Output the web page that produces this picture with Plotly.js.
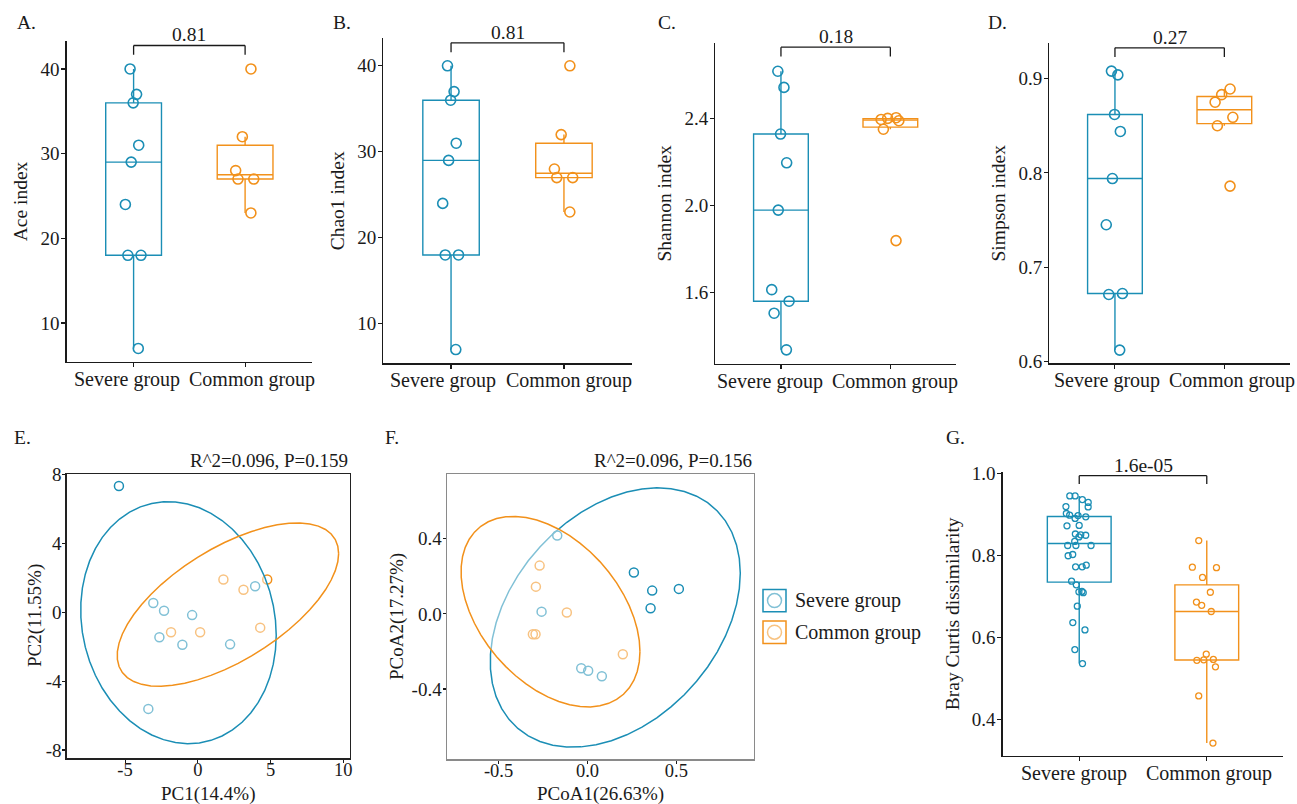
<!DOCTYPE html>
<html>
<head>
<meta charset="utf-8">
<script src="https://cdn.plot.ly/plotly-3.0.1.min.js"></script>
<style>html,body{margin:0;padding:0;background:#fff;} #chart{width:1297px;height:804px;}</style>
</head>
<body>
<div id="chart"></div>
<script>
// ---------------- data ----------------
const groups = ['Severe group', 'Common group'];

const aceSevere = [40, 37, 36, 31, 29, 24, 18, 18, 7];
const aceCommon = [40, 32, 28, 27, 27, 23];
const chao1Severe = [40, 37, 36, 31, 29, 24, 18, 18, 7];
const chao1Common = [40, 32, 28, 27, 27, 23];
const shannonSevere = [2.616, 2.542, 2.328, 2.196, 1.979, 1.614, 1.561, 1.506, 1.338];
const shannonCommon = [2.403, 2.400, 2.395, 2.389, 2.350, 1.839];
const simpsonSevere = [0.908, 0.904, 0.862, 0.844, 0.794, 0.745, 0.672, 0.671, 0.612];
const simpsonCommon = [0.889, 0.883, 0.875, 0.859, 0.850, 0.786];

const pcaSevereX = [-5.42, -3.06, -2.32, -0.39, 3.94, -2.64, -1.06, 2.22, -3.40];
const pcaSevereY = [7.34, 0.54, 0.09, -0.16, 1.52, -1.45, -1.88, -1.86, -5.61];
const pcaCommonX = [1.76, 3.14, 4.77, -1.84, 0.16, 4.29];
const pcaCommonY = [1.91, 1.31, 1.91, -1.16, -1.16, -0.89];

const pcoaSevereX = [-0.170, 0.261, 0.364, 0.514, 0.355, -0.258, -0.035, 0.004, 0.081];
const pcoaSevereY = [0.417, 0.220, 0.124, 0.133, 0.030, 0.012, -0.289, -0.303, -0.332];
const pcoaCommonX = [-0.269, -0.290, -0.116, -0.307, -0.292, 0.199];
const pcoaCommonY = [0.257, 0.145, 0.007, -0.108, -0.108, -0.215];

const braySevere = [0.945, 0.945, 0.936, 0.918, 0.929, 0.919, 0.894, 0.890, 0.902, 0.898,
                    0.897, 0.872, 0.873, 0.849, 0.845, 0.850, 0.852, 0.824, 0.824, 0.834,
                    0.824, 0.802, 0.799, 0.772, 0.772, 0.776, 0.737, 0.728, 0.709, 0.711,
                    0.712, 0.676, 0.636, 0.618, 0.570, 0.536];
const brayCommon = [0.836, 0.770, 0.771, 0.746, 0.710, 0.686, 0.678, 0.663, 0.545, 0.546,
                    0.544, 0.559, 0.528, 0.457, 0.342];

const pLabels = ['0.81', '0.81', '0.18', '0.27', '1.6e-05'];
const permLabels = ['R^2=0.096, P=0.159', 'R^2=0.096, P=0.156'];
const panelLetters = ['A.', 'B.', 'C.', 'D.', 'E.', 'F.', 'G.'];
const boxYTitles = ['Ace index', 'Chao1 index', 'Shannon index', 'Simpson index', 'Bray Curtis dissimilarity'];
const pcaTitles = ['PC1(14.4%)', 'PC2(11.55%)'];
const pcoaTitles = ['PCoA1(26.63%)', 'PCoA2(17.27%)'];
const pcaXTicks = [-5, 0, 5, 10];
const pcaXTickText = ['-5', '0', '5', '10'];
const pcaYTicks = [-8, -4, 0, 4, 8];
const pcaYTickText = ['-8', '-4', '0', '4', '8'];
const pcoaXTicks = [-0.5, 0, 0.5];
const pcoaXTickText = ['-0.5', '0.0', '0.5'];
const pcoaYTicks = [-0.4, 0, 0.4];
const pcoaYTickText = ['-0.4', '0.0', '0.4'];

// ---------------- style ----------------
const FONT = 'Liberation Serif, Times New Roman, serif';
const BLUE = '#1b8eb5';
const ORANGE = '#f2911b';
const BLUE_L = 'rgb(130,193,214)';
const ORANGE_L = 'rgb(248,195,130)';
const INK = '#1a1a1a';
const W = 1297, H = 804;
const px = v => v / W;
const py = v => 1 - v / H;

// ---------------- helpers ----------------
function q7(s, p) {
  const h = (s.length - 1) * p, lo = Math.floor(h), hi = Math.ceil(h);
  return s[lo] + (h - lo) * (s[hi] - s[lo]);
}
function boxStats(vals) {
  const s = vals.slice().sort((a, b) => a - b);
  const q1 = q7(s, 0.25), med = q7(s, 0.5), q3 = q7(s, 0.75), iqr = q3 - q1;
  const lf = Math.min.apply(null, s.filter(v => v >= q1 - 1.5 * iqr));
  const uf = Math.max.apply(null, s.filter(v => v <= q3 + 1.5 * iqr));
  return {q1, med, q3, lf, uf};
}
function boxTrace(vals, group, color, n, o) {
  const st = boxStats(vals);
  return {
    type: 'box', x: [group], y: [vals],
    q1: [st.q1], median: [st.med], q3: [st.q3], lowerfence: [st.lf], upperfence: [st.uf],
    boxpoints: 'all', jitter: o.jitter, pointpos: 0, width: 0.5, whiskerwidth: 0,
    fillcolor: 'rgba(255,255,255,0)', line: {color: color, width: 1.4},
    marker: {symbol: 'circle-open', size: o.size, color: color, line: {width: o.lw, color: color}},
    xaxis: 'x' + n, yaxis: 'y' + n, showlegend: false, hoverinfo: 'skip'
  };
}
// MASS::cov.trob + ggplot2 stat_ellipse (type "t", level 0.95)
function ellipse(xs, ys) {
  const n = xs.length, nu = 5, p = 2;
  let loc = [xs.reduce((a, b) => a + b, 0) / n, ys.reduce((a, b) => a + b, 0) / n];
  let w = new Array(n).fill(1);
  let X = [];
  for (let it = 0; it < 25; it++) {
    const w0 = w.slice();
    X = xs.map((x, i) => [x - loc[0], ys[i] - loc[1]]);
    const sw = w.reduce((a, b) => a + b, 0);
    let a = 0, b = 0, c = 0;
    X.forEach((d, i) => { a += w[i] / sw * d[0] * d[0]; b += w[i] / sw * d[0] * d[1]; c += w[i] / sw * d[1] * d[1]; });
    const det = a * c - b * b;
    const Q = X.map(d => (c * d[0] * d[0] - 2 * b * d[0] * d[1] + a * d[1] * d[1]) / det);
    w = Q.map(q => (nu + p) / (nu + q));
    const sw2 = w.reduce((s, v) => s + v, 0);
    loc = [xs.reduce((s, x, i) => s + w[i] * x, 0) / sw2, ys.reduce((s, y, i) => s + w[i] * y, 0) / sw2];
    if (w.every((v, i) => Math.abs(v - w0[i]) < 0.01)) break;
  }
  let a = 0, b = 0, c = 0;
  X.forEach((d, i) => { a += w[i] * d[0] * d[0]; b += w[i] * d[0] * d[1]; c += w[i] * d[1] * d[1]; });
  a /= n; b /= n; c /= n;
  const r11 = Math.sqrt(a), r12 = b / r11, r22 = Math.sqrt(c - r12 * r12);
  const dfd = n - 1;
  const qf = dfd / 2 * (Math.pow(0.05, -2 / dfd) - 1);
  const radius = Math.sqrt(2 * qf);
  const ex = [], ey = [];
  for (let k = 0; k <= 51; k++) {
    const t = k * 2 * Math.PI / 51, co = Math.cos(t), si = Math.sin(t);
    ex.push(loc[0] + radius * co * r11);
    ey.push(loc[1] + radius * (co * r12 + si * r22));
  }
  return {x: ex, y: ey};
}
function ellTrace(xs, ys, color, n, filled) {
  const e = ellipse(xs, ys);
  return {type: 'scatter', mode: 'lines', x: e.x, y: e.y, xaxis: 'x' + n, yaxis: 'y' + n,
    line: {color: color, width: 1.5}, fill: filled ? 'toself' : 'none',
    fillcolor: 'rgba(255,255,255,0.45)', showlegend: false, hoverinfo: 'skip'};
}
function ptsTrace(xs, ys, color, n) {
  return {type: 'scatter', mode: 'markers', x: xs, y: ys, xaxis: 'x' + n, yaxis: 'y' + n,
    marker: {symbol: 'circle-open', size: 9, color: color, line: {width: 1.5, color: color}},
    showlegend: false, hoverinfo: 'skip'};
}

// ---------------- traces ----------------
const big = {jitter: 0.4, size: 10, lw: 1.6};
const small = {jitter: 0.5, size: 6, lw: 1.3};
const boxSets = [[aceSevere, aceCommon], [chao1Severe, chao1Common], [shannonSevere, shannonCommon], [simpsonSevere, simpsonCommon]];
const traces = [];
boxSets.forEach((set, i) => {
  traces.push(boxTrace(set[0], groups[0], BLUE, i + 1, big));
  traces.push(boxTrace(set[1], groups[1], ORANGE, i + 1, big));
});
traces.push(boxTrace(braySevere, groups[0], BLUE, 7, small));
traces.push(boxTrace(brayCommon, groups[1], ORANGE, 7, small));

// panel E: severe ellipse (translucent white fill) over the points, common ellipse last
traces.push(ptsTrace(pcaSevereX, pcaSevereY, BLUE, 5));
traces.push(ptsTrace(pcaCommonX, pcaCommonY, ORANGE, 5));
traces.push(ellTrace(pcaSevereX, pcaSevereY, BLUE, 5, true));
traces.push(ellTrace(pcaCommonX, pcaCommonY, ORANGE, 5, false));

// panel F: common ellipse (translucent white fill) drawn last
traces.push(ptsTrace(pcoaSevereX, pcoaSevereY, BLUE, 6));
traces.push(ptsTrace(pcoaCommonX, pcoaCommonY, ORANGE, 6));
traces.push(ellTrace(pcoaSevereX, pcoaSevereY, BLUE, 6, false));
traces.push(ellTrace(pcoaCommonX, pcoaCommonY, ORANGE, 6, true));

// ---------------- axes ----------------
const tickFont = {family: FONT, size: 19, color: INK};
const catFont = {family: FONT, size: 20, color: INK};
const titleFont = {family: FONT, size: 19.5, color: INK};
function catAxis(d, anchor) {
  return {domain: d, anchor: anchor, type: 'category', categoryorder: 'array', categoryarray: groups,
    range: [-0.6, 1.6], showline: true, linecolor: INK, linewidth: 1.3, ticks: 'outside', ticklen: 4,
    tickwidth: 1.1, tickcolor: INK, showticklabels: false, showgrid: false, zeroline: false, fixedrange: true};
}
function valAxis(d, anchor, range, dtick, fmt, title) {
  return {domain: d, anchor: anchor, range: range, dtick: dtick, tick0: 0, tickformat: fmt,
    showline: true, linecolor: INK, linewidth: 1.3, ticks: 'outside', ticklen: 4, tickwidth: 1.1,
    tickcolor: INK, tickfont: tickFont, ticklabelstandoff: -2, showgrid: false, zeroline: false, fixedrange: true,
    title: {text: title, font: titleFont, standoff: 7}};
}
function frameAxis(d, anchor, range, tv, tt, lc, isX) {
  return {domain: d, anchor: anchor, range: range, tickvals: tv, ticktext: tt, tickangle: 0,
    showline: true, mirror: true, linecolor: lc, linewidth: 1.3, ticks: 'outside', ticklen: 3, tickwidth: 1.1,
    tickcolor: INK, tickfont: {family: FONT, size: isX ? 18.5 : 19, color: INK}, ticklabelstandoff: isX ? -9 : -3,
    showgrid: false, zeroline: false, fixedrange: true};
}

const layout = {
  width: W, height: H, margin: {l: 0, r: 0, t: 0, b: 0}, autosize: false,
  paper_bgcolor: '#ffffff', plot_bgcolor: 'rgba(0,0,0,0)', showlegend: false, boxmode: 'overlay',
  font: {family: FONT, size: 19, color: INK},
  xaxis: catAxis([px(66.7), px(312)], 'y'),
  yaxis: valAxis([py(362), py(41)], 'x', [5.4, 43.3], 10, '', boxYTitles[0]),
  xaxis2: catAxis([px(383.3), px(631.7)], 'y2'),
  yaxis2: valAxis([py(363.3), py(38.3)], 'x2', [5.4, 43.2], 10, '', boxYTitles[1]),
  xaxis3: catAxis([px(715.3), px(956)], 'y3'),
  yaxis3: valAxis([py(364), py(42.7)], 'x3', [1.273, 2.747], 0.4, '.1f', boxYTitles[2]),
  xaxis4: catAxis([px(1049.3), px(1290)], 'y4'),
  yaxis4: valAxis([py(363.3), py(43.3)], 'x4', [0.598, 0.9375], 0.1, '.1f', boxYTitles[3]),
  xaxis5: frameAxis([px(66.7), px(350)], 'y5', [-9.01, 10.46], pcaXTicks, pcaXTickText, '#222', true),
  yaxis5: frameAxis([py(758.3), py(474.3)], 'x5', [-8.48, 8.02], pcaYTicks, pcaYTickText, '#222', false),
  xaxis6: frameAxis([px(446.8), px(753.9)], 'y6', [-0.791, 0.936], pcoaXTicks, pcoaXTickText, '#8a8a8a', true),
  yaxis6: frameAxis([py(759.3), py(474.3)], 'x6', [-0.774, 0.743], pcoaYTicks, pcoaYTickText, '#8a8a8a', false),
  xaxis7: catAxis([px(1002.7), px(1283.3)], 'y7'),
  yaxis7: valAxis([py(756), py(471.7)], 'x7', [0.3105, 1.004], 0.2, '.1f', boxYTitles[4]),
  shapes: [], annotations: []
};

// significance brackets + group labels under each box panel
const catShift = [[-7, 7], [-8, 5], [-11, 5], [-8, 8], [-5, 2]];
[1, 2, 3, 4, 7].forEach((n, i) => {
  const xr = n === 1 ? 'x' : 'x' + n;
  const yr0 = n === 1 ? 'y' : 'y' + n;
  const yr = yr0 + ' domain';
  const ln = {color: INK, width: 1.3};
  layout.shapes.push({type: 'line', xref: xr, yref: yr, x0: groups[0], x1: groups[1], y0: 0.986, y1: 0.986, line: ln});
  layout.shapes.push({type: 'line', xref: xr, yref: yr, x0: groups[0], x1: groups[0], y0: 0.986, y1: 0.957, line: ln});
  layout.shapes.push({type: 'line', xref: xr, yref: yr, x0: groups[1], x1: groups[1], y0: 0.986, y1: 0.957, line: ln});
  layout.annotations.push({xref: xr + ' domain', yref: yr, x: 0.5, y: 0.986,
    xanchor: 'center', yanchor: 'bottom', yshift: -2, showarrow: false, text: pLabels[i],
    font: {family: FONT, size: 19.5, color: INK}});
  groups.forEach((g, k) => {
    layout.annotations.push({xref: xr, yref: yr, x: k, y: 0, xanchor: 'center', yanchor: 'top',
      xshift: catShift[i][k], yshift: -4, showarrow: false, text: g, font: catFont});
  });
});

// permanova labels
[5, 6].forEach((n, i) => {
  layout.annotations.push({xref: 'x' + n + ' domain', yref: 'y' + n + ' domain', x: 1, y: 1,
    xanchor: 'right', yanchor: 'bottom', yshift: 1, showarrow: false, text: permLabels[i],
    font: {family: FONT, size: 19, color: INK}});
});

// ordination axis titles
const ordTitles = [
  [pcaTitles[0], 208, 794, 0], [pcaTitles[1], 35, 616, -90],
  [pcoaTitles[0], 600, 794, 0], [pcoaTitles[1], 397, 617, -90]
];
ordTitles.forEach(t => {
  layout.annotations.push({xref: 'paper', yref: 'paper', x: px(t[1]), y: py(t[2]), xanchor: 'center', yanchor: 'middle',
    textangle: t[3], showarrow: false, text: t[0], font: {family: FONT, size: 19, color: INK}});
});

// panel letters
const letterPos = [[15, 23], [331, 23], [656, 23], [986, 23], [12, 437], [383, 437], [944, 437]];
panelLetters.forEach((t, i) => {
  layout.annotations.push({xref: 'paper', yref: 'paper', x: px(letterPos[i][0]), y: py(letterPos[i][1]),
    xanchor: 'left', yanchor: 'middle', showarrow: false, text: t, font: {family: FONT, size: 19.5, color: INK}});
});

// legend (drawn beside panel F)
const legendRows = [[groups[0], BLUE, BLUE_L, 600.6], [groups[1], ORANGE, ORANGE_L, 632.2]];
legendRows.forEach(r => {
  const cy = r[3];
  layout.shapes.push({type: 'rect', xref: 'paper', yref: 'paper', x0: px(763), x1: px(786), y0: py(cy + 11.2), y1: py(cy - 11.2),
    line: {color: r[1], width: 1.5}, fillcolor: 'rgba(0,0,0,0)'});
  layout.shapes.push({type: 'circle', xref: 'paper', yref: 'paper', x0: px(767.5), x1: px(781.5), y0: py(cy + 7), y1: py(cy - 7),
    line: {color: r[2], width: 1.5}, fillcolor: 'rgba(0,0,0,0)'});
  layout.annotations.push({xref: 'paper', yref: 'paper', x: px(793), y: py(cy), xanchor: 'left', yanchor: 'middle',
    showarrow: false, text: r[0], font: {family: FONT, size: 20, color: INK}});
});

Plotly.newPlot('chart', traces, layout, {displayModeBar: false, staticPlot: true});
</script>
</body>
</html>
